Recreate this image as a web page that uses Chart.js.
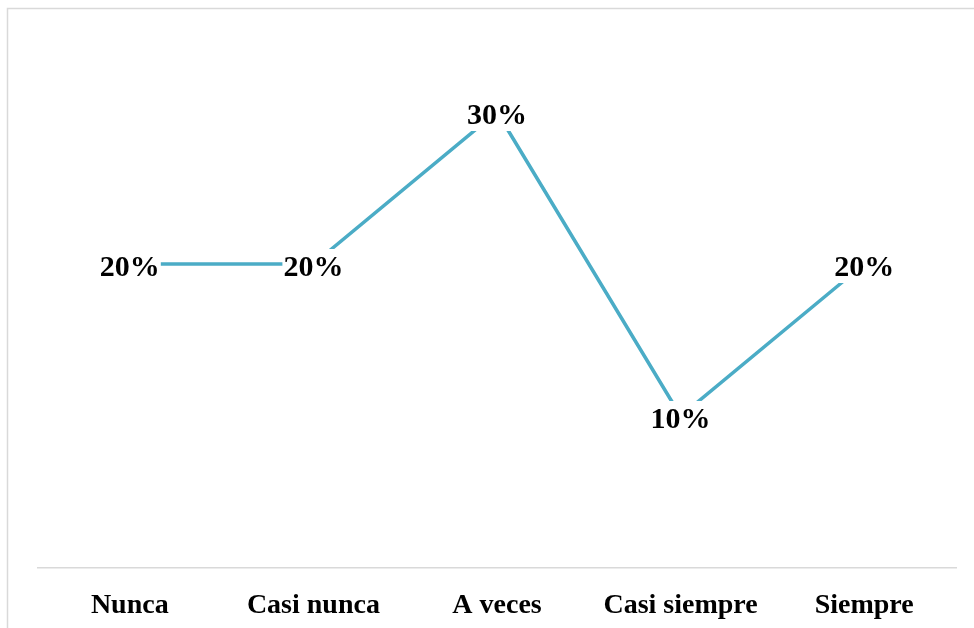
<!DOCTYPE html>
<html>
<head>
<meta charset="utf-8">
<script src="https://cdn.jsdelivr.net/npm/chart.js@4"></script>
<style>
  html, body { margin: 0; padding: 0; background: #fff; }
  #wrap { width: 974px; height: 628px; position: relative; }
</style>
</head>
<body>
<div id="wrap"><canvas id="grafico"></canvas></div>
<script>
const categorias = ["Nunca", "Casi nunca", "A veces", "Casi siempre", "Siempre"];
const porcentajes = [20, 20, 30, 10, 20];

const serif = "'Times New Roman', 'Liberation Serif', serif";

// marco gris claro del gráfico
const marco = {
  id: 'marco',
  beforeDraw(chart) {
    const ctx = chart.ctx;
    ctx.save();
    ctx.strokeStyle = '#d9d9d9';
    ctx.lineWidth = 1.5;
    ctx.beginPath();
    ctx.moveTo(7.5, chart.height + 5);
    ctx.lineTo(7.5, 8.5);
    ctx.lineTo(chart.width + 5, 8.5);
    ctx.stroke();
    ctx.restore();
  }
};

// etiquetas de valor centradas en cada punto, con fondo blanco
const etiquetas = {
  id: 'etiquetas',
  afterDatasetsDraw(chart) {
    const ctx = chart.ctx;
    const meta = chart.getDatasetMeta(0);
    ctx.save();
    ctx.font = "bold 30px " + serif;
    ctx.textAlign = 'center';
    ctx.textBaseline = 'middle';
    meta.data.forEach((pt, i) => {
      const txt = porcentajes[i] + '%';
      const w = ctx.measureText(txt).width;
      ctx.fillStyle = '#fff';
      ctx.fillRect(pt.x - w / 2 - 1, pt.y - 15, w + 2, 34);
      ctx.fillStyle = '#000';
      ctx.fillText(txt, pt.x, pt.y + 4);
    });
    ctx.restore();
  }
};

new Chart(document.getElementById('grafico'), {
  type: 'line',
  data: {
    labels: categorias,
    datasets: [{
      data: porcentajes,
      borderColor: '#4BACC6',
      borderWidth: 3.5,
      pointRadius: 0,
      tension: 0,
      fill: false
    }]
  },
  options: {
    responsive: true,
    maintainAspectRatio: false,
    animation: false,
    layout: { padding: { left: 38, right: 18, top: 36, bottom: 0 } },
    plugins: {
      legend: { display: false },
      tooltip: { enabled: false }
    },
    scales: {
      x: {
        offset: true,
        afterFit(scale) { scale.height = 60; },
        grid: { display: false, drawTicks: false },
        border: { display: true, color: '#d9d9d9', width: 1.5 },
        ticks: {
          color: '#000',
          padding: 21,
          maxRotation: 0,
          font: { family: serif, size: 28, weight: 'bold' }
        }
      },
      y: {
        display: false,
        min: 0,
        max: 35
      }
    }
  },
  plugins: [marco, etiquetas]
});
</script>
</body>
</html>
